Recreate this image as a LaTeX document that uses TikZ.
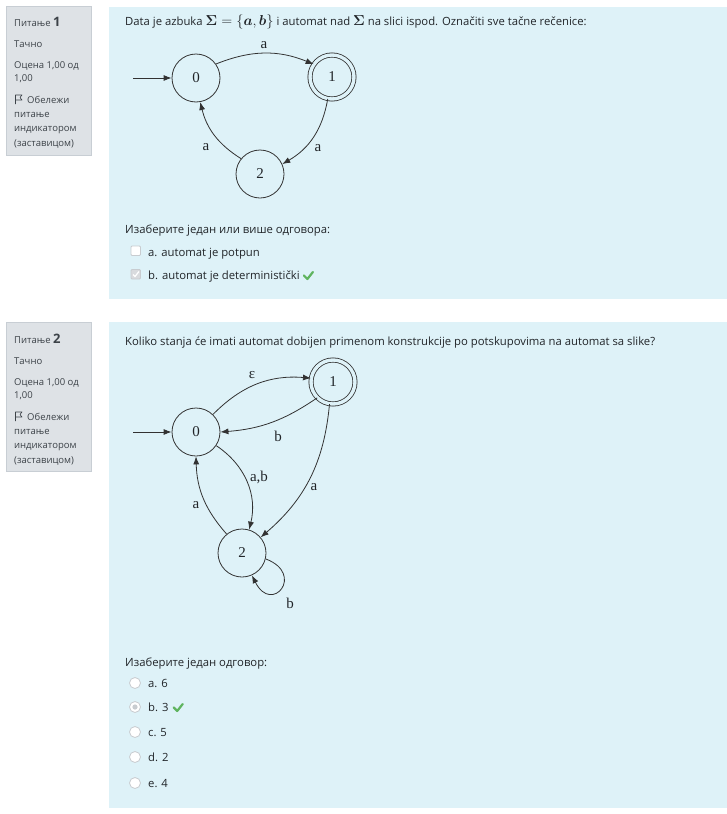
\documentclass[tikz,border=0pt]{standalone}
\usepackage{amsmath}
\usepackage[no-math]{fontspec}
\setmainfont{Open Sans}
\newfontfamily\serifa{Liberation Serif}
\usetikzlibrary{arrows.meta}
\definecolor{qbg}{RGB}{222,242,248}
\definecolor{infobg}{RGB}{222,226,230}
\definecolor{infoborder}{RGB}{200,206,212}
\definecolor{txtc}{RGB}{33,37,41}
\definecolor{sidetxt}{RGB}{60,66,72}
\definecolor{edgec}{RGB}{50,50,50}
\definecolor{okgreen}{RGB}{95,180,95}
\definecolor{boxgray}{RGB}{200,204,208}
\newcommand{\qmath}[1]{{\fontsize{13.5}{13}\selectfont$#1$}}
\tikzset{
  state/.style={circle,draw=edgec,line width=0.8pt,minimum size=48pt,inner sep=0pt,font=\serifa\fontsize{15}{15}\selectfont,text=txtc},
  accept/.style={state,minimum size=44pt,double=qbg,double distance=3.4pt},
  edge/.style={draw=edgec,line width=0.8pt,-{Latex[length=8pt,width=6pt]}},
  lab/.style={inner sep=0pt,font=\serifa\fontsize{15}{15}\selectfont,text=txtc},
  txt/.style={anchor=base west,inner sep=0pt,font=\fontsize{11.3}{13}\selectfont,text=txtc},
  side/.style={anchor=base west,inner sep=0pt,font=\fontsize{9.5}{11}\selectfont,text=sidetxt},
  sidebox/.style={fill=infobg,draw=infoborder,line width=0.8pt},
  qbox/.style={fill=qbg},
  chk/.style={draw=okgreen,line width=2.2pt,line cap=round,line join=round},
  cbox/.style={draw=boxgray,fill=white,line width=0.8pt,rounded corners=1pt},
  radio/.style={circle,draw=boxgray,fill=white,line width=0.8pt,minimum size=11pt,inner sep=0pt},
}
\begin{document}
\begin{tikzpicture}[x=1pt,y=-1pt]
\useasboundingbox (0,0) rectangle (727,814);
\fill[white] (0,0) rectangle (727,814);

% ---------- question 1 ----------
\draw[sidebox] (6.5,6.5) rectangle (91,155);
\node[side] (s1a) at (14,26) {Питање {\fontsize{13}{13}\selectfont\bfseries 1}};
\node[side] (s1b) at (14,47) {Тачно};
\node[side] (s1c) at (14,68) {Оцена 1,00 од};
\node[side] (s1d) at (14,81) {1,00};
\draw[sidetxt,line width=0.6pt,line join=round] (15.5,104) -- (15.5,95) -- (22,95) -- (20,97.5) -- (22,100) -- (15.5,100);
\node[side] (s1e) at (27,103) {Обележи};
\node[side] (s1f) at (14,117) {питање};
\node[side] (s1g) at (14,131) {индикатором};
\node[side] (s1h) at (14,146) {(заставицом)};

\fill[qbox] (109,7) rectangle (727,299);
\node[txt] (q1text) at (125,25) {Data je azbuka \qmath{\boldsymbol{\Sigma}=\{\boldsymbol{a},\boldsymbol{b}\}} i automat nad \qmath{\boldsymbol{\Sigma}} na slici ispod. Označiti sve tačne rečenice:};

\node[state] (a0) at (196,78) {0};
\node[accept] (a1) at (332,77) {1};
\node[state] (a2) at (260,174) {2};
\coordinate (a0in) at (133,78);
\draw[edge] (a0in) -- (a0);
\draw[edge] (a0.35) to[bend left=22] (a1.145);
\draw[edge] (a1.259) to[bend left=25] (a2.24);
\draw[edge] (a2.141) to[bend left=22] (a0.280);
\node[lab] (la01) at (264,45) {a};
\node[lab] (la12) at (318,148) {a};
\node[lab] (la20) at (206,147) {a};

\node[txt] (h1) at (125,233) {Изаберите један или више одговора:};
\draw[cbox] (131,246) rectangle (140.5,255.5);
\node[txt] (c1a) at (148,256) {a. automat je potpun};
\draw[cbox,fill=boxgray!70] (131,269.5) rectangle (140.5,279);
\draw[white,line width=1.2pt] (133,274.5) -- (135,276.5) -- (139,271.5);
\node[txt] (c1b) at (148,279) {b. automat je deterministički};
\draw[chk] (c1b.base east) ++(4,-3.5) -- ++(3.5,3.5) -- ++(5.5,-7);

% ---------- question 2 ----------
\draw[sidebox] (6.5,322.5) rectangle (91,471.5);
\begin{scope}[shift={(0,317)}]
\node[side] (s2a) at (14,26) {Питање {\fontsize{13}{13}\selectfont\bfseries 2}};
\node[side] (s2b) at (14,47) {Тачно};
\node[side] (s2c) at (14,68) {Оцена 1,00 од};
\node[side] (s2d) at (14,81) {1,00};
\draw[sidetxt,line width=0.6pt,line join=round] (15.5,104) -- (15.5,95) -- (22,95) -- (20,97.5) -- (22,100) -- (15.5,100);
\node[side] (s2e) at (27,103) {Обележи};
\node[side] (s2f) at (14,117) {питање};
\node[side] (s2g) at (14,131) {индикатором};
\node[side] (s2h) at (14,146) {(заставицом)};
\end{scope}

\fill[qbox] (109,322) rectangle (727,808);
\node[txt] (q2text) at (125,345) {Koliko stanja će imati automat dobijen primenom konstrukcije po potskupovima na automat sa slike?};

\node[state] (b0) at (196,432) {0};
\node[accept] (b1) at (333,382) {1};
\node[state] (b2) at (242,553) {2};
\coordinate (b0in) at (133,432);
\draw[edge] (b0in) -- (b0);
\draw[edge] (b0.46) to[bend left=25] (b1.170);
\draw[edge] (b1.225) to[bend left=15] (b0.0);
\draw[edge] (b0.326) to[bend left=35] (b2.73);
\draw[edge] (b1.261) to[bend left=22] (b2.40);
\draw[edge] (b2.129) to[bend left=20] (b0.270);
\draw[edge] (b2.-14) .. controls +(40,15) and +(20,40) .. (b2.-66);
\node[lab] (lb01) at (252,375) {ε};
\node[lab] (lb10) at (278,436) {b};
\node[lab] (lb02) at (259,477) {a,b};
\node[lab] (lb12) at (314,487) {a};
\node[lab] (lb20) at (196,505) {a};
\node[lab] (lb22) at (290,603) {b};

\node[txt] (h2) at (125,666) {Изаберите један одговор:};
\node[radio] (r1) at (135,683) {};
\node[radio] (r2) at (135,707) {};
\fill[boxgray] (r2) circle (2.6);
\node[radio] (r3) at (135,732) {};
\node[radio] (r4) at (135,757) {};
\node[radio] (r5) at (135,783) {};
\node[txt] (o1) at (148,687) {a. 6};
\node[txt] (o2) at (148,711) {b. 3};
\draw[chk] (o2.base east) ++(5,-3.5) -- ++(3.5,3.5) -- ++(5.5,-7);
\node[txt] (o3) at (148,736) {c. 5};
\node[txt] (o4) at (148,761) {d. 2};
\node[txt] (o5) at (148,787) {e. 4};
\end{tikzpicture}
\end{document}
